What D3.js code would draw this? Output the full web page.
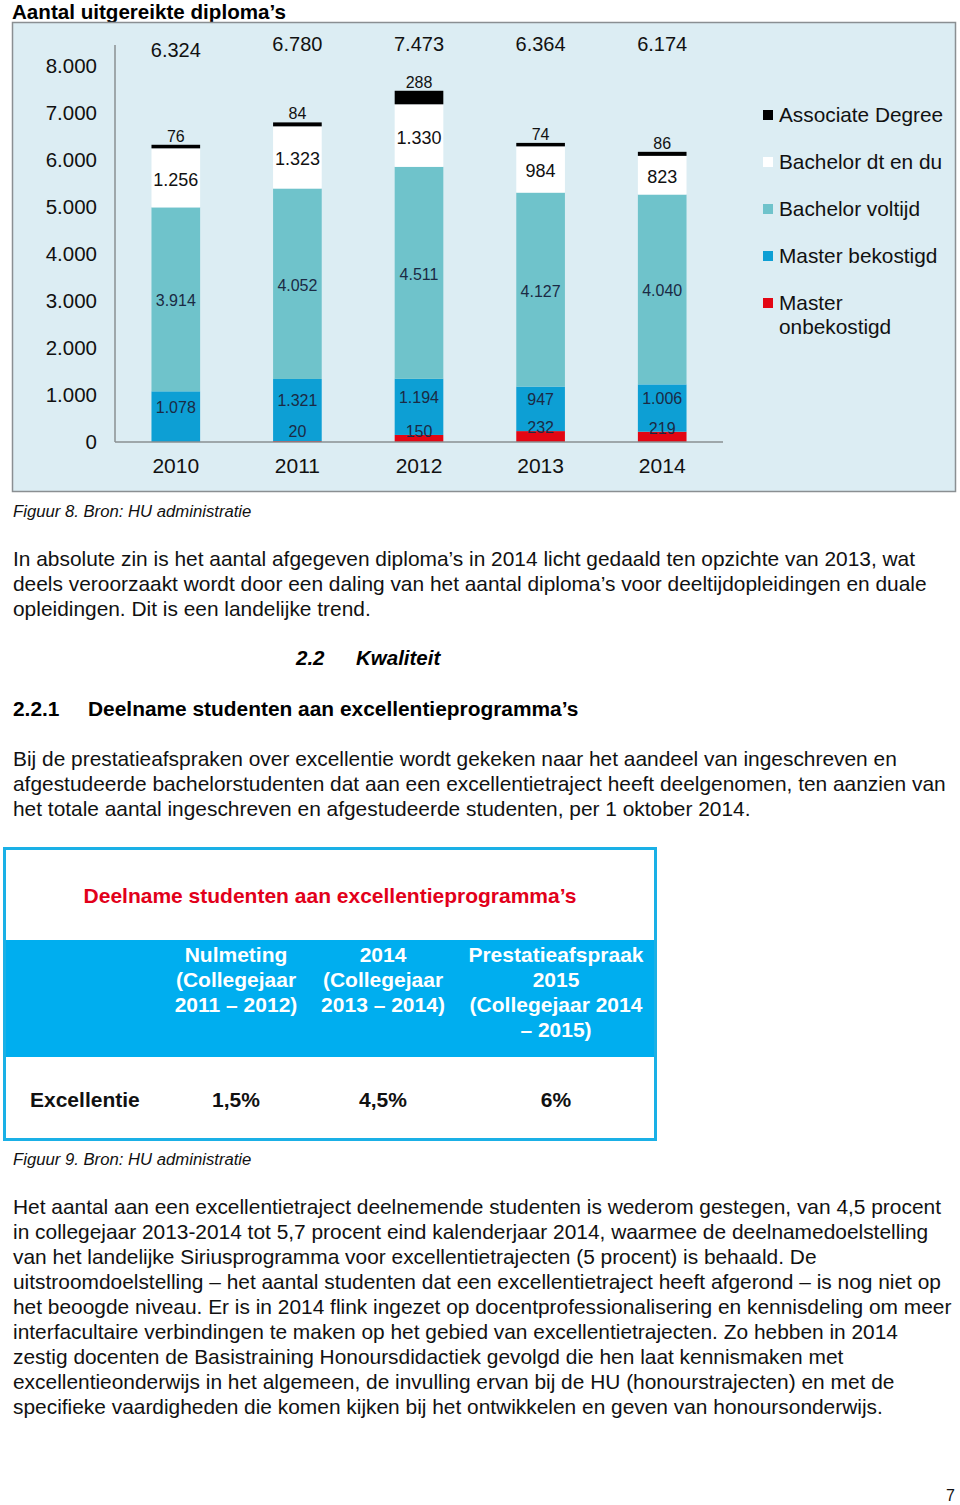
<!DOCTYPE html>
<html><head><meta charset="utf-8">
<script src="https://cdn.jsdelivr.net/npm/d3@7"></script>
<style>
html,body{margin:0;padding:0;background:#fff;}
svg{display:block;}
text{font-family:"Liberation Sans",Arial,sans-serif;}
.narrow{font-family:"Liberation Sans Narrow","Liberation Sans",Arial,sans-serif;font-weight:bold;}
</style></head>
<body>
<svg id="page" width="960" height="1505"></svg>
<script>
// ---------- data ----------
const years = ["2010","2011","2012","2013","2014"];
const associateDegree = [76, 84, 288, 74, 86];
const bachelorDtDu = [1256, 1323, 1330, 984, 823];
const bachelorVoltijd = [3914, 4052, 4511, 4127, 4040];
const masterBekostigd = [1078, 1321, 1194, 947, 1006];
const masterOnbekostigd = [0, 20, 150, 232, 219];
const totals = [6324, 6780, 7473, 6364, 6174];
const yTicks = [0,1000,2000,3000,4000,5000,6000,7000,8000];
const seriesNames = ["Associate Degree","Bachelor dt en du","Bachelor voltijd","Master bekostigd","Master onbekostigd"];

const tableTitle = "Deelname studenten aan excellentieprogramma’s";
const tableHeaders = [["Nulmeting","(Collegejaar","2011 – 2012)"],["2014","(Collegejaar","2013 – 2014)"],["Prestatieafspraak","2015","(Collegejaar 2014","– 2015)"]];
const tableRowLabel = "Excellentie";
const tableValues = ["1,5%","4,5%","6%"];

const para1 = ["In absolute zin is het aantal afgegeven diploma’s in 2014 licht gedaald ten opzichte van 2013, wat",
"deels veroorzaakt wordt door een daling van het aantal diploma’s voor deeltijdopleidingen en duale",
"opleidingen. Dit is een landelijke trend."];
const para2 = ["Bij de prestatieafspraken over excellentie wordt gekeken naar het aandeel van ingeschreven en",
"afgestudeerde bachelorstudenten dat aan een excellentietraject heeft deelgenomen, ten aanzien van",
"het totale aantal ingeschreven en afgestudeerde studenten, per 1 oktober 2014."];
const para3 = ["Het aantal aan een excellentietraject deelnemende studenten is wederom gestegen, van 4,5 procent",
"in collegejaar 2013-2014 tot 5,7 procent eind kalenderjaar 2014, waarmee de deelnamedoelstelling",
"van het landelijke Siriusprogramma voor excellentietrajecten (5 procent) is behaald. De",
"uitstroomdoelstelling – het aantal studenten dat een excellentietraject heeft afgerond – is nog niet op",
"het beoogde niveau. Er is in 2014 flink ingezet op docentprofessionalisering en kennisdeling om meer",
"interfacultaire verbindingen te maken op het gebied van excellentietrajecten. Zo hebben in 2014",
"zestig docenten de Basistraining Honoursdidactiek gevolgd die hen laat kennismaken met",
"excellentieonderwijs in het algemeen, de invulling ervan bij de HU (honourstrajecten) en met de",
"specifieke vaardigheden die komen kijken bij het ontwikkelen en geven van honoursonderwijs."];

// ---------- setup ----------
const svg = d3.select("#page");
const nl = d3.formatLocale({decimal:",", thousands:".", grouping:[3], currency:["€",""]});
const fmt = nl.format(",d");

const colors = {
  associate:"#000000", dt:"#ffffff", vt:"#6fc3cb", bek:"#0d9fd4", onb:"#e30613"
};
const keys = ["onb","bek","vt","dt","assoc"];
const colorOf = {onb:colors.onb, bek:colors.bek, vt:colors.vt, dt:colors.dt, assoc:colors.associate};

const rows = years.map((y,i)=>({year:y, onb:masterOnbekostigd[i], bek:masterBekostigd[i], vt:bachelorVoltijd[i], dt:bachelorDtDu[i], assoc:associateDegree[i], total:totals[i]}));
const stacked = d3.stack().keys(keys)(rows);

// title
svg.append("text").attr("x",12).attr("y",19).attr("font-size",20.6).attr("font-weight","bold").text("Aantal uitgereikte diploma’s");

// panel
svg.append("rect").attr("x",12.5).attr("y",22.5).attr("width",943).attr("height",469)
  .attr("fill","#dcedf3").attr("stroke","#8a8f92").attr("stroke-width",1.5);

const x = d3.scaleBand().domain(years).range([115,723]).paddingInner(0.6).paddingOuter(0.3);
const y = d3.scaleLinear().domain([0,8000]).range([442,66]);

// bars
const g = svg.append("g");
g.selectAll("g.layer").data(stacked).join("g").attr("class","layer")
  .attr("fill",d=>colorOf[d.key])
  .selectAll("rect").data(d=>d).join("rect")
  .attr("x",d=>x(d.data.year)).attr("width",x.bandwidth())
  .attr("y",d=>y(d[1])).attr("height",d=>y(d[0])-y(d[1]));

// axes
const yAxis = d3.axisLeft(y).tickValues(yTicks).tickFormat(fmt).tickSize(0).tickPadding(18);
const ya = svg.append("g").attr("transform","translate(115,0)").call(yAxis);
ya.select(".domain").remove();
ya.selectAll("text").attr("font-size",20.5).attr("font-family","Liberation Sans, Arial, sans-serif").attr("fill","#111");
svg.append("line").attr("x1",115).attr("x2",115).attr("y1",45).attr("y2",442).attr("stroke","#8a8f92").attr("stroke-width",1.5);
const xAxis = d3.axisBottom(x).tickSize(0).tickPadding(16);
const xa = svg.append("g").attr("transform","translate(0,442)").call(xAxis);
xa.select(".domain").remove();
xa.selectAll("text").attr("font-size",21).attr("font-family","Liberation Sans, Arial, sans-serif").attr("fill","#111");
svg.append("line").attr("x1",115).attr("x2",723).attr("y1",442).attr("y2",442).attr("stroke","#8a8f92").attr("stroke-width",1.5);

// labels
const cx = d=>x(d.data.year)+x.bandwidth()/2;
const labelG = svg.append("g").attr("text-anchor","middle");
const layer = k=>stacked.find(s=>s.key===k);
// totals
labelG.selectAll("text.tot").data(rows).join("text").attr("class","tot")
  .attr("x",d=>x(d.year)+x.bandwidth()/2).attr("y",(d,i)=>i===0?57:51)
  .attr("font-size",20).attr("fill","#111").text(d=>fmt(d.total));
// associate (above)
labelG.selectAll("text.as").data(layer("assoc")).join("text").attr("class","as")
  .attr("x",cx).attr("y",d=>y(d[1])-3).attr("font-size",16).attr("fill","#111").text(d=>fmt(d[1]-d[0]));
// bachelor dt (centre)
labelG.selectAll("text.dt").data(layer("dt")).join("text").attr("class","dt")
  .attr("x",cx).attr("y",d=>(y(d[0])+y(d[1]))/2+8).attr("font-size",18).attr("fill","#111").text(d=>fmt(d[1]-d[0]));
// bachelor voltijd (centre)
labelG.selectAll("text.vt").data(layer("vt")).join("text").attr("class","vt")
  .attr("x",cx).attr("y",d=>(y(d[0])+y(d[1]))/2+7).attr("font-size",16).attr("fill","#1b2a44").text(d=>fmt(d[1]-d[0]));
// master bekostigd (upper part)
labelG.selectAll("text.bek").data(layer("bek")).join("text").attr("class","bek")
  .attr("x",cx).attr("y",d=>(y(d[0])+y(d[1]))/2-4).attr("font-size",16).attr("fill","#1b2a44").text(d=>fmt(d[1]-d[0]));
// master onbekostigd (just above)
labelG.selectAll("text.onb").data(layer("onb").filter(d=>d[1]-d[0]>0)).join("text").attr("class","onb")
  .attr("x",cx).attr("y",d=>Math.min(y(d[1])+2,437)).attr("font-size",16).attr("fill","#1b2a44").text(d=>fmt(d[1]-d[0]));

// legend
const legColors = [colors.associate, colors.dt, colors.vt, colors.bek, colors.onb];
const leg = svg.append("g").attr("transform","translate(763,115)");
seriesNames.forEach((n,i)=>{
  const gg = leg.append("g").attr("transform",`translate(0,${i*47})`);
  gg.append("rect").attr("x",0).attr("y",-5).attr("width",10).attr("height",10).attr("fill",legColors[i]);
  const t = gg.append("text").attr("x",16).attr("y",7).attr("font-size",20.8).attr("fill","#111");
  if(n==="Master onbekostigd"){
    t.append("tspan").attr("x",16).text("Master");
    t.append("tspan").attr("x",16).attr("dy",24).text("onbekostigd");
  } else t.text(n);
});

// captions & paragraphs
const cap = (txt,yy)=>svg.append("text").attr("x",13).attr("y",yy).attr("font-size",16.7).attr("font-style","italic").attr("fill","#111").text(txt);
cap("Figuur 8. Bron: HU administratie",517);
const para = (lines,y0)=>{
  svg.append("g").selectAll("text").data(lines).join("text")
    .attr("x",13).attr("y",(d,i)=>y0+i*25).attr("font-size",20.9).attr("fill","#111").text(d=>d);
};
para(para1,566);
svg.append("text").attr("x",296).attr("y",665).attr("font-size",20.5).attr("font-weight","bold").attr("font-style","italic").text("2.2");
svg.append("text").attr("x",356).attr("y",665).attr("font-size",20.5).attr("font-weight","bold").attr("font-style","italic").text("Kwaliteit");
svg.append("text").attr("x",13).attr("y",716).attr("font-size",20.9).attr("font-weight","bold").text("2.2.1");
svg.append("text").attr("x",88).attr("y",716).attr("font-size",20.9).attr("font-weight","bold").text("Deelname studenten aan excellentieprogramma’s");
para(para2,766);

// table
const tb = svg.append("g");
tb.append("rect").attr("x",5).attr("y",940).attr("width",650).attr("height",117).attr("fill","#00aeef");
tb.append("rect").attr("x",4.5).attr("y",848.5).attr("width",651).attr("height",291).attr("fill","none").attr("stroke","#1ab0e6").attr("stroke-width",3);
tb.append("text").attr("class","narrow").attr("x",330).attr("y",903).attr("text-anchor","middle").attr("font-size",21).attr("fill","#e2001a").text(tableTitle);
const colX = [236,383,556];
tableHeaders.forEach((lines,ci)=>{
  const t = tb.append("text").attr("class","narrow").attr("text-anchor","middle").attr("font-size",21).attr("fill","#fff");
  lines.forEach((l,li)=>t.append("tspan").attr("x",colX[ci]).attr("y",962+li*25).text(l));
});
tb.append("text").attr("class","narrow").attr("x",30).attr("y",1107).attr("font-size",21).attr("fill","#111").text(tableRowLabel);
tb.selectAll("text.val").data(tableValues).join("text").attr("class","narrow val")
  .attr("x",(d,i)=>colX[i]).attr("y",1107).attr("text-anchor","middle").attr("font-size",21).attr("fill","#111").text(d=>d);

cap("Figuur 9. Bron: HU administratie",1165);
para(para3,1214);
svg.append("text").attr("x",955).attr("y",1501).attr("text-anchor","end").attr("font-size",16).attr("fill","#111").text("7");
</script>
</body></html>
